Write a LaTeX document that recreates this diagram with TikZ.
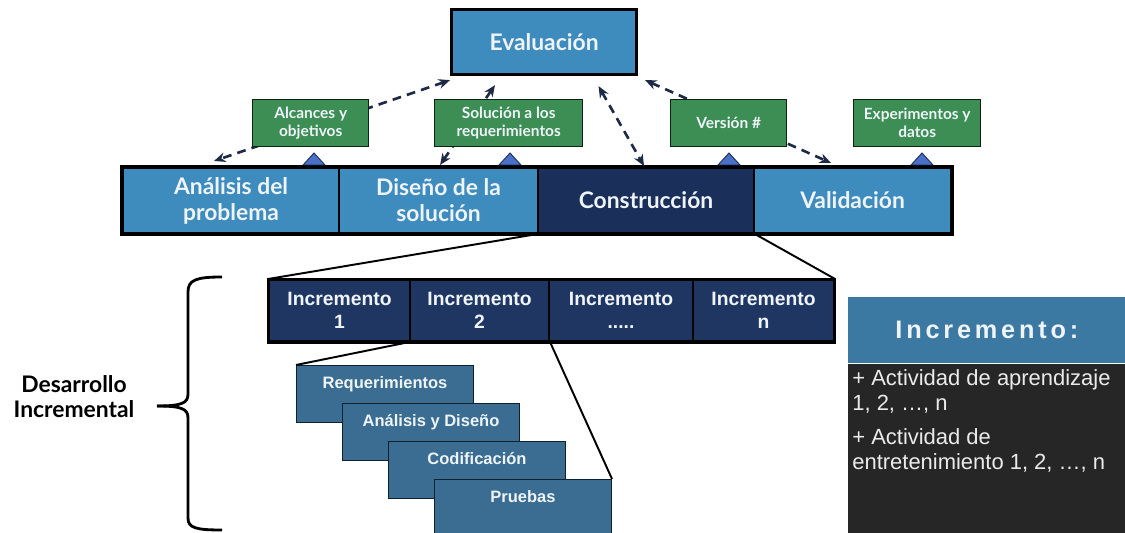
\documentclass[tikz,border=0pt]{standalone}
\usepackage{fontspec}
\setmainfont{Lato}
\newfontfamily\arialfont{Liberation Sans}
\newfontfamily\spacedfont[LetterSpace=15]{Liberation Sans}
\usepackage{tikz}
\usetikzlibrary{arrows.meta,positioning}
\definecolor{stageblue}{HTML}{3E8BBE}
\definecolor{stagenavy}{HTML}{1B2F5B}
\definecolor{incnavy}{HTML}{1F3562}
\definecolor{notegreen}{HTML}{3C8E55}
\definecolor{phaseblue}{HTML}{3A6D91}
\definecolor{headblue}{HTML}{3B79A2}
\definecolor{panelgray}{HTML}{262626}
\definecolor{triblue}{HTML}{4A70C8}
\definecolor{linkdark}{HTML}{1E2A45}
\definecolor{labelwhite}{HTML}{EEF4F8}

\begin{document}
\begin{tikzpicture}[
		x=0.02cm, y=-0.02cm,
		stage/.style={draw=black, line width=1.2pt, fill=stageblue, text=labelwhite, minimum height=1.30cm, inner sep=0pt, anchor=north west, align=center, font=\fontsize{13}{14.8}\selectfont\bfseries},
		note/.style={draw=black!75!notegreen, line width=0.8pt, fill=notegreen, text=labelwhite, minimum height=0.94cm, inner sep=0pt, anchor=north west, align=center, font=\fontsize{8.8}{10.2}\selectfont\bfseries},
		incr/.style={draw=black, line width=1.2pt, fill=incnavy, text=labelwhite, minimum height=1.22cm, inner sep=0pt, anchor=north west, align=center, font=\arialfont\fontsize{11}{13}\selectfont\bfseries},
		phase/.style={draw=black!70!phaseblue, line width=0.6pt, fill=phaseblue, text=labelwhite, minimum width=3.54cm, minimum height=1.14cm, text height=0.46cm, text depth=0.68cm, inner sep=0pt, anchor=north west, font=\arialfont\fontsize{9.4}{11}\selectfont\bfseries},
		tri/.style={fill=triblue, draw=black!60!triblue, line width=0.5pt},
		twoway/.style={<->, >={Stealth[length=6.5pt,width=5.5pt]}, draw=linkdark, line width=1.5pt, dash pattern=on 5pt off 3.5pt},
		zoomline/.style={draw=black, line width=1.1pt}
		]
		\useasboundingbox (0,0) rectangle (1125,533);
		
		% Top level
		\node[stage, line width=1.8pt, minimum width=3.70cm] (eva) at (450,8) {Evaluación};
		
		\node[stage, minimum width=4.32cm] (ana) at (122,167) {Análisis del\\problema};
		\node[stage, minimum width=3.98cm] (dis) at (338,167) {Diseño de la\\solución};
		\node[stage, minimum width=4.32cm, fill=stagenavy] (con) at (537,167) {Construcción};
		\node[stage, minimum width=3.94cm] (val) at (753,167) {Validación};
		\draw[line width=1.8pt] (ana.north west) rectangle (val.south east);
		
		% Dashed links
		\draw[twoway] ([yshift=-0.08cm]eva.south west) -- ([xshift=-0.34cm,yshift=0.12cm]ana.north);
		\draw[twoway] ([xshift=0.9cm,yshift=-0.18cm]eva.south west) -- ([xshift=0.03cm,yshift=0.04cm]dis.north);
		\draw[twoway] ([xshift=1.09cm,yshift=-0.2cm]eva.south) -- ([xshift=-0.04cm,yshift=0.02cm]con.north);
		\draw[twoway] ([xshift=0.14cm,yshift=-0.08cm]eva.south east) -- ([xshift=-0.43cm,yshift=0.08cm]val.north);
		
		% Products
		\node[note, minimum width=2.32cm] (alc) at (252,99) {Alcances y\\objetivos};
		\node[note, minimum width=2.96cm] (sol) at (434,99) {Solución a los\\requerimientos};
		\node[note, minimum width=2.32cm] (ver) at (670,99) {Versión \#};
		\node[note, minimum width=2.54cm] (exp) at (853,99) {Experimentos y\\datos};
		
		\draw[tri] (314,153) -- (325,165) -- (303,165) -- cycle;
		\draw[tri] (510,153) -- (521,165) -- (499,165) -- cycle;
		\draw[tri] (729,153) -- (740,165) -- (718,165) -- cycle;
		\draw[tri] (922,153) -- (933,165) -- (911,165) -- cycle;
		
		% Increments
		\node[incr, minimum width=2.82cm] (inc1) at (268,279) {Incremento\\1};
		\node[incr, minimum width=2.78cm] (inc2) at (409,279) {Incremento\\2};
		\node[incr, minimum width=2.88cm] (inc3) at (548,279) {Incremento\\.....};
		\node[incr, minimum width=2.82cm] (incn) at (692,279) {Incremento\\n};
		\draw[line width=1.6pt] (inc1.north west) rectangle (incn.south east);
		
		\draw[zoomline] (con.south west) -- (inc1.north west);
		\draw[zoomline] (con.south east) -- (incn.north east);
		
		% Phases of one increment
		\node[phase] (req) at (296,365) {Requerimientos};
		\node[phase] (ayd) at (342,403) {Análisis y Diseño};
		\node[phase] (cod) at (388,441) {Codificación};
		\node[phase] (pru) at (434,479) {Pruebas};
		
		\draw[zoomline] (inc2.south west) -- (req.north west);
		\draw[zoomline] (inc2.south east) -- (pru.north east);
		
		% Brace
		\draw[line width=1.6pt] (222,277) .. controls (196,277) and (188,280) .. (188,292) -- (188,394) .. controls (188,403) and (182,406) .. (157,406);
		\draw[line width=1.6pt] (157,406) .. controls (182,406) and (188,409) .. (188,418) -- (188,518) .. controls (188,528) and (196,530) .. (222,530);
		\node[font=\fontsize{13}{14.2}\selectfont\bfseries, align=center] (dev) at (74,397) {Desarrollo\\Incremental};
		
		% Increment panel
		\node[fill=headblue, anchor=north west, minimum width=5.54cm, minimum height=1.32cm, inner sep=0pt, text=labelwhite, font=\spacedfont\fontsize{14.4}{16}\selectfont\bfseries] (head) at (848,297) {Incremento:};
		\node[fill=panelgray, anchor=north west, minimum width=5.54cm, minimum height=3.40cm, inner sep=0pt] (body) at (head.south west) {};
		\node[anchor=north west, inner sep=0pt, align=left, text=white!92!black, font=\arialfont\fontsize{12.5}{14.2}\selectfont] (acts) at (852,369) {+ Actividad de aprendizaje\\1, 2, …, n\\[5.1pt]+ Actividad de\\entretenimiento 1, 2, …, n};
\end{tikzpicture}
\end{document}
